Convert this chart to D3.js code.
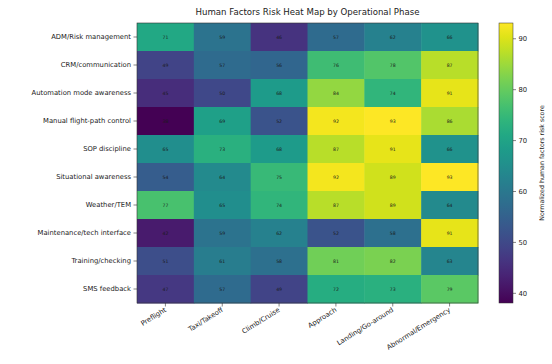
<!DOCTYPE html>
<html>
<head>
<meta charset="utf-8">
<script src="https://cdn.jsdelivr.net/npm/d3@7"></script>
<style>
  html, body { margin: 0; padding: 0; background: #fff; }
  svg { display: block; font-family: "DejaVu Sans", sans-serif; }
</style>
</head>
<body>
<svg id="chart" width="552" height="364"></svg>
<script>
// Operational phases (columns) and human-factors areas (rows)
const phases = ["Preflight", "Taxi/Takeoff", "Climb/Cruise", "Approach", "Landing/Go-around", "Abnormal/Emergency"];
const factors = [
  "ADM/Risk management",
  "CRM/communication",
  "Automation mode awareness",
  "Manual flight-path control",
  "SOP discipline",
  "Situational awareness",
  "Weather/TEM",
  "Maintenance/tech interface",
  "Training/checking",
  "SMS feedback"
];
// Normalized risk score per factor, one value per phase
const admRisk      = [71, 59, 46, 57, 62, 66];
const crmComm      = [49, 57, 56, 76, 78, 87];
const automation   = [45, 50, 68, 84, 74, 91];
const manualFlight = [38, 69, 52, 92, 93, 86];
const sopDiscipline= [65, 73, 68, 87, 91, 66];
const situational  = [54, 64, 75, 92, 89, 93];
const weatherTem   = [77, 65, 74, 87, 89, 64];
const maintenance  = [42, 59, 62, 52, 58, 91];
const training     = [51, 61, 58, 81, 82, 63];
const smsFeedback  = [47, 57, 49, 72, 73, 79];
const scoreRows = [admRisk, crmComm, automation, manualFlight, sopDiscipline,
                   situational, weatherTem, maintenance, training, smsFeedback];
const colorTicks = [40, 50, 60, 70, 80, 90];

const svg = d3.select("#chart");
const plot = { left: 137, top: 23, width: 341, height: 280 };

const cells = [];
scoreRows.forEach((row, i) => row.forEach((v, j) => cells.push({ factor: factors[i], phase: phases[j], v })));

const x = d3.scaleBand().domain(phases).range([plot.left, plot.left + plot.width]);
const y = d3.scaleBand().domain(factors).range([plot.top, plot.top + plot.height]);
const vMin = d3.min(cells, d => d.v), vMax = d3.max(cells, d => d.v);
const color = d3.scaleSequential(d3.interpolateViridis).domain([vMin, vMax]);

// Title
svg.append("text")
  .attr("x", plot.left + plot.width / 2).attr("y", 15)
  .attr("text-anchor", "middle").attr("font-size", 8.6).attr("fill", "#222")
  .text("Human Factors Risk Heat Map by Operational Phase");

// Cells
svg.append("g").selectAll("rect").data(cells).join("rect")
  .attr("x", d => x(d.phase)).attr("y", d => y(d.factor))
  .attr("width", x.bandwidth() + 0.5).attr("height", y.bandwidth() + 0.5)
  .attr("fill", d => color(d.v));

// Value annotations
svg.append("g").selectAll("text").data(cells).join("text")
  .attr("x", d => x(d.phase) + x.bandwidth() / 2)
  .attr("y", d => y(d.factor) + y.bandwidth() / 2)
  .attr("text-anchor", "middle").attr("dominant-baseline", "central")
  .attr("font-size", 4.6).attr("fill", "#1a1a1a")
  .text(d => d3.format(".0f")(d.v));

// Frame
svg.append("rect")
  .attr("x", plot.left).attr("y", plot.top)
  .attr("width", plot.width).attr("height", plot.height)
  .attr("fill", "none").attr("stroke", "#333").attr("stroke-width", 0.6);

// Y axis
const yAxis = svg.append("g")
  .attr("transform", `translate(${plot.left},0)`)
  .call(d3.axisLeft(y).tickSize(3.5).tickPadding(2.5));
yAxis.select(".domain").remove();
yAxis.selectAll("line").attr("stroke", "#333").attr("stroke-width", 0.6);
yAxis.selectAll("text").attr("font-size", 6.8).attr("fill", "#222")
  .attr("font-family", "DejaVu Sans, sans-serif");

// X axis with slanted labels
const xAxis = svg.append("g")
  .attr("transform", `translate(0,${plot.top + plot.height})`)
  .call(d3.axisBottom(x).tickSize(3.5).tickPadding(2));
xAxis.select(".domain").remove();
xAxis.selectAll("line").attr("stroke", "#333").attr("stroke-width", 0.6);
xAxis.selectAll("text")
  .attr("font-size", 6.8).attr("fill", "#222")
  .attr("font-family", "DejaVu Sans, sans-serif")
  .attr("text-anchor", "end")
  .attr("dy", "0.35em")
  .attr("transform", "translate(0,6) rotate(-32)")
  .attr("y", 0).attr("x", 0);

// Colorbar
const cb = { left: 499, width: 14 };
const cy = d3.scaleLinear().domain([vMin, vMax]).range([plot.top + plot.height, plot.top]);
const defs = svg.append("defs");
const grad = defs.append("linearGradient").attr("id", "viridisGrad")
  .attr("x1", 0).attr("y1", 1).attr("x2", 0).attr("y2", 0);
d3.range(0, 1.0001, 0.05).forEach(t => {
  grad.append("stop").attr("offset", t).attr("stop-color", d3.interpolateViridis(t));
});
svg.append("rect")
  .attr("x", cb.left).attr("y", plot.top)
  .attr("width", cb.width).attr("height", plot.height)
  .attr("fill", "url(#viridisGrad)")
  .attr("stroke", "#333").attr("stroke-width", 0.5);

const cAxis = svg.append("g")
  .attr("transform", `translate(${cb.left + cb.width},0)`)
  .call(d3.axisRight(cy).tickValues(colorTicks).tickSize(3).tickPadding(2.5));
cAxis.select(".domain").remove();
cAxis.selectAll("line").attr("stroke", "#333").attr("stroke-width", 0.6);
cAxis.selectAll("text").attr("font-size", 6.8).attr("fill", "#222")
  .attr("font-family", "DejaVu Sans, sans-serif");

svg.append("text")
  .attr("transform", `translate(541,${plot.top + plot.height / 2}) rotate(-90)`)
  .attr("text-anchor", "middle").attr("dominant-baseline", "central")
  .attr("font-size", 6.3).attr("fill", "#222")
  .text("Normalized human factors risk score");
</script>
</body>
</html>
